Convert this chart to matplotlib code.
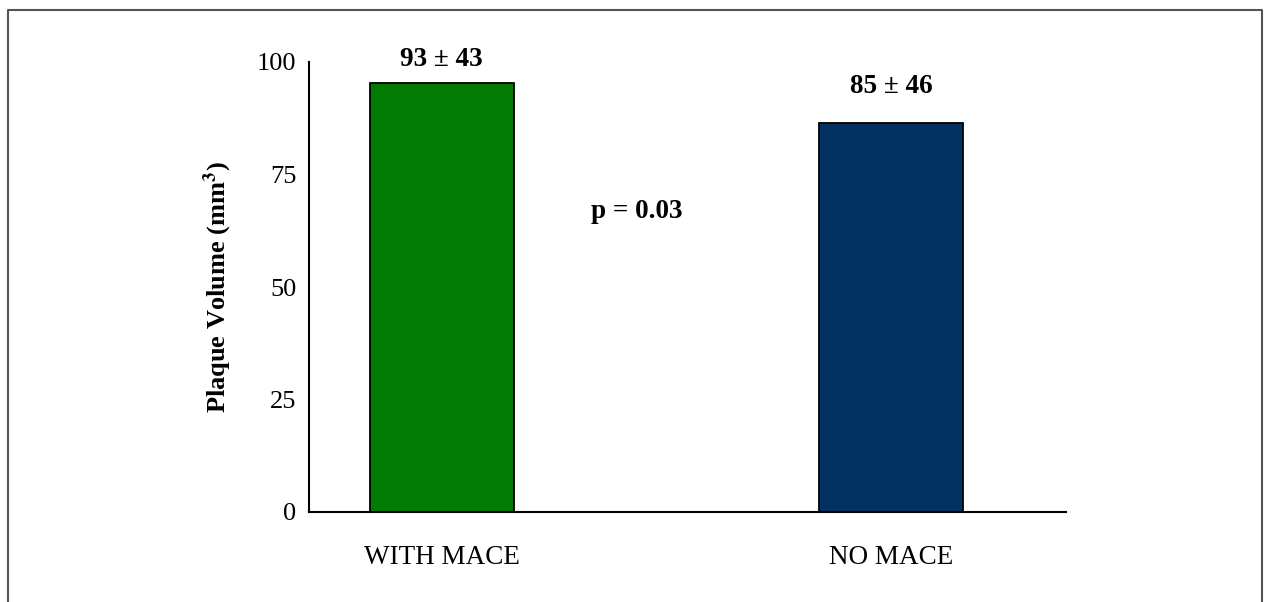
import matplotlib.pyplot as plt
from matplotlib.lines import Line2D

plt.rcParams['font.family'] = ['Liberation Serif', 'DejaVu Serif']
plt.rcParams['mathtext.fontset'] = 'stix'

groups = ["WITH MACE", "NO MACE"]
volumes = [95.4, 86.5]
labels = ["93 \u00b1 43", "85 \u00b1 46"]
colors = ["#027b02", "#013262"]
label_offsets = [17, 26]

fig = plt.figure(figsize=(12.64, 6.02), dpi=100)
ax = fig.add_axes([309 / 1264, 90 / 602, 757 / 1264, 450 / 602])

x = [0, 1]
ax.bar(x, volumes, width=0.32, color=colors, edgecolor="black", linewidth=1.3)

for xi, v, lab, off in zip(x, volumes, labels, label_offsets):
    ax.annotate(lab, (xi, v), xytext=(0, off), textcoords="offset points",
                ha="center", va="center", fontsize=19.5, fontweight="bold")

ax.text(0.435, 66.7, "p = 0.03", ha="center", va="center", fontsize=19.5, fontweight="bold")

ax.set_xlim(-0.295, 1.389)
ax.set_ylim(0, 100)
ax.set_yticks([0, 25, 50, 75, 100])
ax.set_xticks(x)
ax.set_xticklabels(groups)
ax.tick_params(axis="y", length=0, pad=9, labelsize=19)
ax.tick_params(axis="x", length=0, pad=24, labelsize=19.5)

ax.set_ylabel(r"Plaque Volume (mm$^\mathbf{3}$)", fontsize=19, fontweight="bold")
ax.yaxis.set_label_coords(-0.099, 0.5)

ax.spines["top"].set_visible(False)
ax.spines["right"].set_visible(False)
ax.spines["left"].set_linewidth(1.5)
ax.spines["bottom"].set_linewidth(1.5)

# outer frame around the figure (bottom is cut off)
fx = [8 / 1264, 8 / 1264, 1262 / 1264, 1262 / 1264]
fy = [0, 1 - 10 / 602, 1 - 10 / 602, 0]
fig.add_artist(Line2D(fx, fy, transform=fig.transFigure, color="#555555", linewidth=1.5))

fig.savefig("out.png", dpi=100)
